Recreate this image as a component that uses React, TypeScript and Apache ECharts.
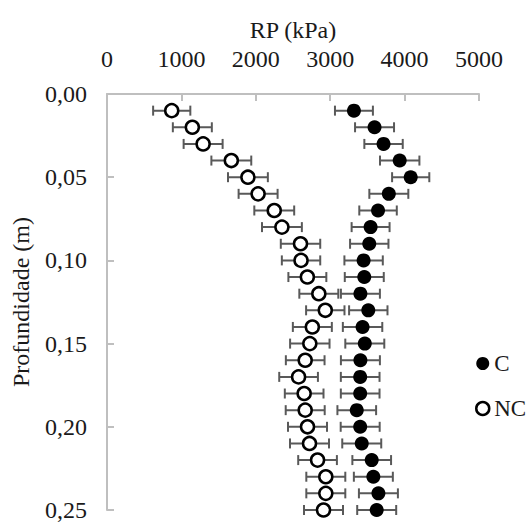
import React, { useEffect, useRef } from "react";
import * as echarts from "echarts";

const depths = [0.01, 0.02, 0.03, 0.04, 0.05, 0.06, 0.07, 0.08, 0.09, 0.10, 0.11, 0.12, 0.13, 0.14, 0.15, 0.16, 0.17, 0.18, 0.19, 0.20, 0.21, 0.22, 0.23, 0.24, 0.25];
const rpC = [3319, 3596, 3717, 3934, 4082, 3788, 3643, 3543, 3525, 3449, 3458, 3406, 3512, 3435, 3465, 3406, 3403, 3403, 3357, 3403, 3424, 3558, 3580, 3648, 3625];
const rpNC = [870, 1147, 1292, 1671, 1894, 2031, 2248, 2351, 2601, 2608, 2693, 2847, 2934, 2760, 2726, 2664, 2575, 2650, 2664, 2695, 2722, 2830, 2941, 2941, 2910];
const errC = [255, 262, 258, 265, 250, 262, 252, 255, 258, 258, 262, 262, 258, 265, 262, 262, 260, 260, 260, 262, 262, 260, 262, 262, 262];
const errNC = [250, 262, 262, 268, 268, 262, 268, 268, 265, 258, 255, 262, 258, 262, 265, 260, 260, 260, 262, 262, 262, 260, 262, 262, 262];
const xTicks = [0, 1000, 2000, 3000, 4000, 5000];
const yTicks = [0, 0.05, 0.1, 0.15, 0.2, 0.25];

const FONT = "'Liberation Serif', 'Times New Roman', serif";

function errorBars(xs: number[], errs: number[]) {
  return depths.map((d, i) => [xs[i], d, errs[i]]);
}

const renderErr = (params: any, api: any) => {
  const x = api.value(0);
  const y = api.value(1);
  const e = api.value(2);
  const l = api.coord([x - e, y]);
  const r = api.coord([x + e, y]);
  const cap = 5;
  const style = { stroke: "#595959", lineWidth: 2 };
  return {
    type: "group",
    children: [
      { type: "line", shape: { x1: l[0], y1: l[1], x2: r[0], y2: r[1] }, style },
      { type: "line", shape: { x1: l[0], y1: l[1] - cap, x2: l[0], y2: l[1] + cap }, style },
      { type: "line", shape: { x1: r[0], y1: r[1] - cap, x2: r[0], y2: r[1] + cap }, style },
    ],
  };
};

export default function App() {
  const ref = useRef<HTMLDivElement>(null);
  useEffect(() => {
    const chart = echarts.init(ref.current!, undefined, { renderer: "svg" });
    const axisLine = { show: true, lineStyle: { color: "#bfbfbf", width: 2 } };
    chart.setOption({
      animation: false,
      backgroundColor: "#fff",
      textStyle: { fontFamily: FONT },
      grid: { left: 107, right: 50, top: 94, bottom: 11 },
      legend: {
        orient: "vertical",
        left: 470,
        top: 347,
        padding: 5,
        itemGap: 22,
        itemWidth: 13,
        itemHeight: 13,
        textStyle: { fontFamily: FONT, fontSize: 23, color: "#1a1a1a" },
        data: [
          { name: "C", icon: "circle", itemStyle: { color: "#000", borderColor: "#000", borderWidth: 0 } },
          { name: "NC", icon: "circle", itemStyle: { color: "#fff", borderColor: "#000", borderWidth: 2.5 } },
        ],
      },
      xAxis: {
        type: "value",
        position: "top",
        min: xTicks[0],
        max: xTicks[xTicks.length - 1],
        interval: 1000,
        name: "RP (kPa)",
        nameLocation: "middle",
        nameGap: 50,
        nameTextStyle: { fontFamily: FONT, fontSize: 24, color: "#1a1a1a" },
        axisLine,
        axisTick: { show: true, inside: true, length: 7, lineStyle: { color: "#bfbfbf", width: 2 } },
        axisLabel: { fontFamily: FONT, fontSize: 24, color: "#1a1a1a", margin: 23, formatter: (v: number) => String(v) },
        splitLine: { show: false },
      },
      yAxis: {
        type: "value",
        inverse: true,
        min: yTicks[0],
        max: yTicks[yTicks.length - 1],
        interval: 0.05,
        name: "Profundidade (m)",
        nameLocation: "middle",
        nameGap: 74,
        nameRotate: 90,
        nameTextStyle: { fontFamily: FONT, fontSize: 24, color: "#1a1a1a" },
        axisLine,
        axisTick: { show: true, inside: true, length: 7, lineStyle: { color: "#bfbfbf", width: 2 } },
        axisLabel: {
          fontFamily: FONT,
          fontSize: 24,
          color: "#1a1a1a",
          margin: 20,
          formatter: (v: number) => v.toFixed(2).replace(".", ","),
        },
        splitLine: { show: false },
      },
      series: [
        {
          type: "custom",
          name: "errC",
          renderItem: renderErr,
          encode: { x: 0, y: 1 },
          data: errorBars(rpC, errC),
          z: 1,
        },
        {
          type: "custom",
          name: "errNC",
          renderItem: renderErr,
          encode: { x: 0, y: 1 },
          data: errorBars(rpNC, errNC),
          z: 1,
        },
        {
          type: "scatter",
          name: "C",
          symbol: "circle",
          symbolSize: 14,
          itemStyle: { color: "#000", opacity: 1 },
          data: depths.map((d, i) => [rpC[i], d]),
          z: 3,
        },
        {
          type: "scatter",
          name: "NC",
          symbol: "circle",
          symbolSize: 13,
          itemStyle: { color: "#fff", borderColor: "#000", borderWidth: 2.5, opacity: 1 },
          data: depths.map((d, i) => [rpNC[i], d]),
          z: 3,
        },
      ],
    });
    return () => chart.dispose();
  }, []);
  return <div ref={ref} style={{ position: "fixed", left: 0, top: 0, width: 529, height: 522 }} />;
}
